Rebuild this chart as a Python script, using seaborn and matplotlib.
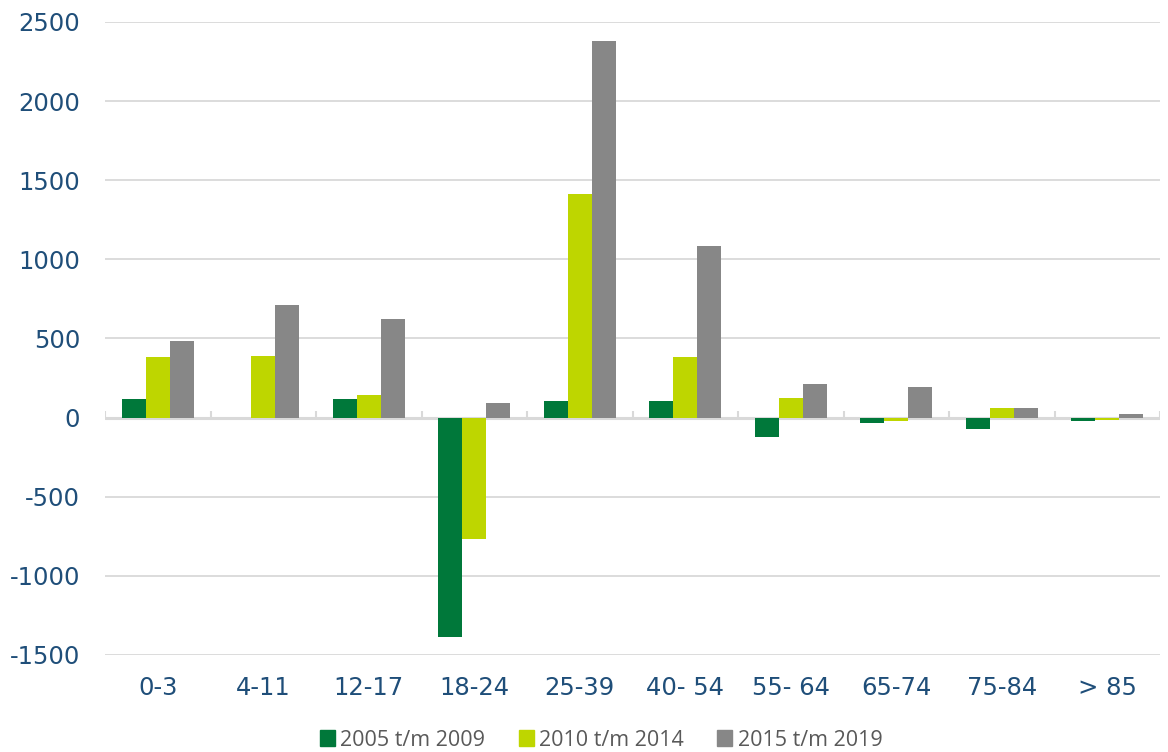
import matplotlib.pyplot as plt
import numpy as np
import pandas as pd
import seaborn as sns

leeftijden = ['0-3', '4-11', '12-17', '18-24', '25-39', '40- 54', '55- 64', '65-74', '75-84', '> 85']
perioden = ['2005 t/m 2009', '2010 t/m 2014', '2015 t/m 2019']
p2005 = [118, 0, 118, -1385, 107, 105, -120, -32, -70, -20]
p2010 = [383, 390, 145, -770, 1415, 383, 126, -20, 58, -15]
p2015 = [486, 713, 625, 95, 2380, 1086, 215, 196, 63, 25]

kleuren = ['#00783A', '#BED600', '#878787']
tekst_blauw = '#1F4E79'
grid_grijs = '#D9D9D9'

df = pd.DataFrame({
    'leeftijd': leeftijden * 3,
    'periode': [perioden[0]] * 10 + [perioden[1]] * 10 + [perioden[2]] * 10,
    'waarde': p2005 + p2010 + p2015,
})

sns.set_style('white')
plt.rcParams['font.family'] = ['DejaVu Sans']
plt.rcParams['axes.unicode_minus'] = False

fig = plt.figure(figsize=(11.68, 7.52), dpi=100)
ax = fig.add_axes([105 / 1168, 1 - 655 / 752, (1160 - 105) / 1168, (655 - 22) / 752])

sns.barplot(data=df, x='leeftijd', y='waarde', hue='periode', order=leeftijden,
            hue_order=perioden, palette=kleuren, saturation=1, width=0.68,
            linewidth=0, ax=ax, zorder=3)
ax.legend_.remove()

ax.set_ylim(-1500, 2500)
ax.set_xlim(-0.5, len(leeftijden) - 0.5)
ax.set_yticks(np.arange(-1500, 2501, 500))
ax.yaxis.grid(True, color=grid_grijs, linewidth=1.3, zorder=0)
ax.set_axisbelow(True)
ax.axhline(0, color=grid_grijs, linewidth=2.2, zorder=2)
# kleine streepjes tussen de categorieen op de nullijn
ax.vlines(np.arange(len(leeftijden) + 1) - 0.5, 0, 45, color=grid_grijs, linewidth=1.5, zorder=2)

for s in ax.spines.values():
    s.set_visible(False)
ax.tick_params(axis='both', length=0, labelsize=17.5, labelcolor=tekst_blauw)
ax.tick_params(axis='x', pad=15)
ax.tick_params(axis='y', pad=18)
ax.set_xlabel('')
ax.set_ylabel('')

handles = [plt.Rectangle((0, 0), 1, 1, color=c) for c in kleuren]
fig.legend(handles, perioden, loc='center', bbox_to_anchor=(601 / 1168, 1 - 740 / 752), ncol=3,
           frameon=False, handlelength=0.7, handleheight=0.7, handletextpad=0.25,
           columnspacing=1.55, prop={'family': 'Open Sans', 'size': 15.5}, labelcolor='#595959')

fig.savefig('out.png', dpi=100)
